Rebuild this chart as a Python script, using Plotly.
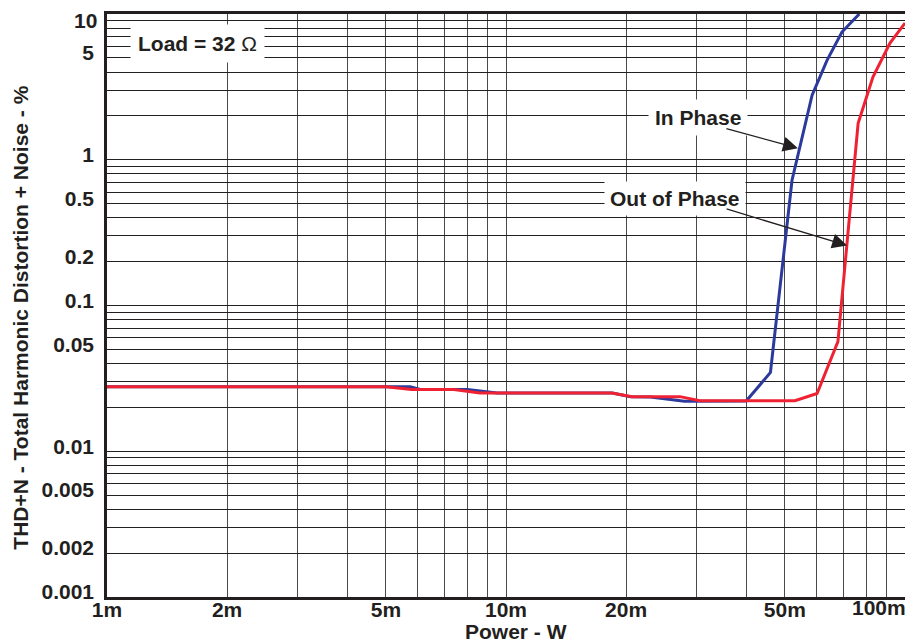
import math
import plotly.graph_objects as go

# ---- data ----
power_in = [0.001, 0.005, 0.00575, 0.0061, 0.0080, 0.0095, 0.0185, 0.0205, 0.0230, 0.0280, 0.0400,
            0.0460, 0.0521, 0.0585, 0.0638, 0.0695, 0.0768]
thd_in = [0.0277, 0.0277, 0.0277, 0.0265, 0.0265, 0.0251, 0.0251, 0.0237, 0.0236, 0.0220, 0.0221,
          0.0347, 0.723, 2.77, 4.83, 7.52, 10.0]

power_out = [0.001, 0.005, 0.0058, 0.0074, 0.0086, 0.0184, 0.0207, 0.0273, 0.0306, 0.0530,
             0.0602, 0.0679, 0.0763, 0.0831, 0.0917, 0.100]
thd_out = [0.0277, 0.0277, 0.0265, 0.0265, 0.0251, 0.0251, 0.0237, 0.0237, 0.0222, 0.0222,
           0.0249, 0.0566, 1.78, 3.69, 6.32, 8.67]

x_grid = [1e-3 * k for k in range(1, 10)] + [1e-2 * k for k in range(1, 10)] + [0.1]
x_label_map = {0.001: "1m", 0.002: "2m", 0.005: "5m", 0.01: "10m", 0.02: "20m", 0.05: "50m"}
x_last_label = "100m"

y_grid = [10 ** e * k for e in range(-3, 1) for k in range(1, 10)] + [10]
y_label_map = {0.001: "0.001", 0.002: "0.002", 0.005: "0.005", 0.01: "0.01", 0.05: "0.05",
               0.1: "0.1", 0.2: "0.2", 0.5: "0.5", 1: "1", 5: "5"}
y_top_label = "10"


def lab(v, m):
    for k, t in m.items():
        if abs(v - k) < 1e-9 * max(1, k):
            return t
    return ""


x_text = [lab(v, x_label_map) for v in x_grid]
y_text = [lab(v, y_label_map) for v in y_grid]

FONT = "Liberation Sans, Arial, Helvetica, sans-serif"
INK = "#231f20"
BLUE = "#2b3a9c"
RED = "#ee2233"
FS = 21

fig = go.Figure()
fig.add_trace(go.Scatter(x=power_in, y=thd_in, mode="lines", name="In Phase",
                         line=dict(color=BLUE, width=3), showlegend=False))
fig.add_trace(go.Scatter(x=power_out, y=thd_out, mode="lines", name="Out of Phase",
                         line=dict(color=RED, width=3), showlegend=False))

fig.update_xaxes(type="log", range=[-3, -1], tickvals=x_grid, ticktext=x_text,
                 showgrid=True, gridcolor="#4a4a4a", gridwidth=1,
                 showline=True, linecolor=INK, linewidth=2.5, mirror=True,
                 ticks="", ticklabelstandoff=-8, automargin=False, ticklabeloverflow="allow",
                 tickfont=dict(family=FONT, size=FS, color=INK, weight="bold"),
                 zeroline=False)
fig.update_yaxes(type="log", range=[-3, 1], tickvals=y_grid, ticktext=y_text,
                 showgrid=True, gridcolor=INK, gridwidth=1.4,
                 showline=True, linecolor=INK, linewidth=2.5, mirror=True,
                 ticks="", ticklabelstandoff=6, ticklabelshift=-5, automargin=False,
                 ticklabeloverflow="allow",
                 tickfont=dict(family=FONT, size=FS, color=INK, weight="bold"),
                 zeroline=False)

bold = dict(family=FONT, size=FS, color=INK, weight="bold")

annotations = [
    # text boxes
    dict(xref="paper", yref="paper", x=0.1128, y=0.950, xanchor="center", yanchor="middle",
         text="Load = 32 <span style='font-weight:normal'>Ω</span>",
         showarrow=False, bgcolor="white", borderpad=7, font=bold),
    dict(xref="paper", yref="paper", x=0.7406, y=0.823, xanchor="center", yanchor="middle",
         text="In Phase", showarrow=False, bgcolor="white", borderpad=6, font=bold),
    dict(xref="paper", yref="paper", x=0.7124, y=0.6827, xanchor="center", yanchor="middle",
         text="Out of Phase", showarrow=False, bgcolor="white", borderpad=5, font=bold),
    # arrows
    dict(x=math.log10(0.0539), y=math.log10(1.2), xref="x", yref="y", text="",
         showarrow=True, ax=-73, ay=-20, arrowhead=2, arrowsize=2.3, arrowwidth=1.3,
         arrowcolor=INK),
    dict(x=math.log10(0.0716), y=math.log10(0.258), xref="x", yref="y", text="",
         showarrow=True, ax=-122, ay=-37, arrowhead=2, arrowsize=2.3, arrowwidth=1.3,
         arrowcolor=INK),
    # axis titles
    dict(xref="paper", yref="paper", x=0.513, y=-0.0585, text="Power - W", showarrow=False,
         xanchor="center", yanchor="middle", font=bold),
    dict(xref="paper", yref="paper", x=-0.1084, y=0.480,
         text="THD+N - Total Harmonic Distortion + Noise - %", showarrow=False, textangle=-90,
         xanchor="center", yanchor="middle", font=bold),
    # edge tick labels, nudged inside the window as in the reference
    dict(xref="paper", yref="paper", x=1.004, y=0.006, text=x_last_label, showarrow=False,
         xanchor="right", yanchor="top", font=bold),
    dict(xref="paper", yref="paper", x=-0.0095, y=0.9897, text=y_top_label, showarrow=False,
         xanchor="right", yanchor="middle", font=bold),
]

# the page body has an 8px margin; the figure is sized and placed to compensate
fig.update_layout(width=905, height=636, margin=dict(l=99, r=8, t=6, b=47),
                  plot_bgcolor="white", paper_bgcolor="white",
                  annotations=annotations, font=dict(family=FONT, color=INK))

fig.write_html("out.html")
